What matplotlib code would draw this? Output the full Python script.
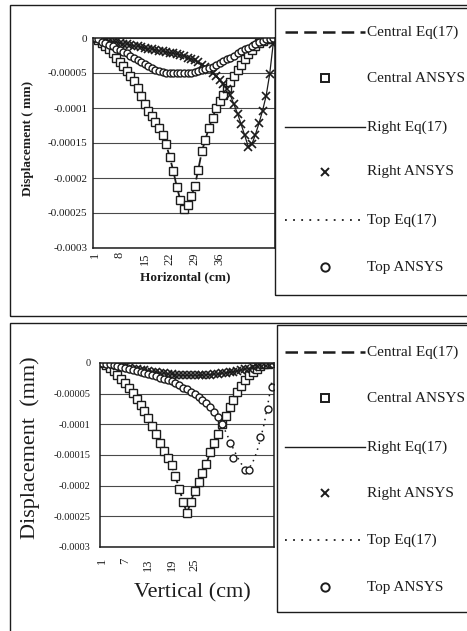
import matplotlib
matplotlib.use('Agg')
import numpy as np
import matplotlib.pyplot as plt
from matplotlib.lines import Line2D
from matplotlib.patches import Rectangle

plt.rcParams['font.family'] = ['Liberation Serif', 'DejaVu Serif']

# horizontal section, 51 stations
central_h = [0, -0.000003, -0.000007, -0.000011, -0.000016, -0.000022, -0.000028, -0.000034,
             -0.00004, -0.000047, -0.000054, -0.000062, -0.000072, -0.000083, -0.000094,
             -0.000104, -0.000112, -0.00012, -0.000128, -0.000138, -0.000152, -0.00017,
             -0.00019, -0.000213, -0.000232, -0.000245, -0.000238, -0.000226, -0.000212,
             -0.000188, -0.000162, -0.000145, -0.000128, -0.000114, -0.0001, -0.00009,
             -0.000081, -0.000072, -0.000063, -0.000054, -0.000046, -0.000038, -0.00003,
             -0.000023, -0.000017, -0.000011, -0.000007, -0.000004, -0.000002, -0.000001, 0]
right_h = [0, -0.000001, -0.000002, -0.000003, -0.000004, -0.000005, -0.000006, -0.000007,
           -0.000008, -0.000009, -0.00001, -0.000011, -0.000012, -0.000013, -0.000014,
           -0.000015, -0.000016, -0.000017, -0.000018, -0.000019, -0.00002, -0.000021,
           -0.000022, -0.000023, -0.000024, -0.000026, -0.000028, -0.00003, -0.000032,
           -0.000035, -0.000038, -0.000041, -0.000045, -0.00005, -0.000054, -0.00006,
           -0.000066, -0.000073, -0.000082, -0.000095, -0.000108, -0.000123, -0.000139,
           -0.000155, -0.000152, -0.000138, -0.000122, -0.000104, -0.000083, -0.000052, -0.000008]
top_h = [0, -0.000002, -0.000005, -0.000007, -0.00001, -0.000012, -0.000015, -0.000017,
         -0.00002, -0.000022, -0.000025, -0.000028, -0.000031, -0.000034, -0.000037,
         -0.00004, -0.000043, -0.000045, -0.000047, -0.000049, -0.00005, -0.00005,
         -0.00005, -0.00005, -0.00005, -0.00005, -0.00005, -0.00005, -0.000049,
         -0.000047, -0.000046, -0.000044, -0.000043, -0.000041, -0.000038, -0.000036,
         -0.000033, -0.00003, -0.000028, -0.000025, -0.000022, -0.000019, -0.000016,
         -0.000014, -0.000011, -0.000008, -0.000006, -0.000004, -0.000002, -0.000001, 0]
ticks_h = [1, 8, 15, 22, 29, 36]

# vertical section, 45 stations
central_v = [0, -0.000003, -0.000008, -0.000013, -0.000019, -0.000026, -0.000033, -0.000041,
             -0.000049, -0.000058, -0.000068, -0.000078, -0.000089, -0.000102, -0.000116,
             -0.00013, -0.000143, -0.000155, -0.000167, -0.000185, -0.000205, -0.000226,
             -0.000245, -0.000226, -0.000208, -0.000194, -0.00018, -0.000165, -0.000145,
             -0.00013, -0.000115, -0.0001, -0.000086, -0.000072, -0.00006, -0.000048,
             -0.000037, -0.000028, -0.00002, -0.000014, -0.000009, -0.000005, -0.000002,
             -0.000001, 0]
right_v = [0, -0.000001, -0.000003, -0.000004, -0.000005, -0.000006, -0.000007, -0.000008,
           -0.000009, -0.00001, -0.000011, -0.000012, -0.000013, -0.000014, -0.000015,
           -0.000016, -0.000017, -0.000018, -0.000018, -0.000019, -0.00002, -0.00002,
           -0.00002, -0.00002, -0.00002, -0.00002, -0.00002, -0.000019, -0.000019,
           -0.000018, -0.000018, -0.000017, -0.000016, -0.000015, -0.000014, -0.000013,
           -0.000012, -0.00001, -0.000009, -0.000007, -0.000005, -0.000004, -0.000002,
           -0.000001, 0]
nan = np.nan
top_v = [0, -0.000001, -0.000002, -0.000003, -0.000005, -0.000006, -0.000008, -0.00001,
         -0.000011, -0.000013, -0.000015, -0.000016, -0.000018, -0.00002, -0.000022,
         -0.000024, -0.000026, -0.000028, -0.00003, -0.000033, -0.000036, -0.00004,
         -0.000043, -0.000047, -0.000051, -0.000055, -0.00006, -0.000065, -0.000071,
         -0.00008, -0.000088, -0.0001, nan, -0.00013, -0.000155, nan, nan, -0.000174,
         -0.000174, nan, nan, -0.00012, nan, -0.000075, -0.000039]
top_eq_v = [0, -0.000001, -0.000002, -0.000003, -0.000005, -0.000006, -0.000008, -0.00001,
            -0.000011, -0.000013, -0.000015, -0.000016, -0.000018, -0.00002, -0.000022,
            -0.000024, -0.000026, -0.000028, -0.00003, -0.000033, -0.000036, -0.00004,
            -0.000043, -0.000047, -0.000051, -0.000055, -0.00006, -0.000065, -0.000071,
            -0.00008, -0.000088, -0.0001, -0.000112, -0.000126, -0.00014, -0.000153,
            -0.000164, -0.000171, -0.000172, -0.000162, -0.000146, -0.000124, -0.000098,
            -0.000064, -0.000028]
ticks_v = [1, 7, 13, 19, 25]

yvals = [0, -0.00005, -0.0001, -0.00015, -0.0002, -0.00025, -0.0003]
ylabs = ['0', '-0.00005', '-0.0001', '-0.00015', '-0.0002', '-0.00025', '-0.0003']
legend_labels = ['Central Eq(17)', 'Central ANSYS', 'Right Eq(17)', 'Right ANSYS',
                 'Top Eq(17)', 'Top ANSYS']

ink = '#1c1c1c'
W, H = 467, 631
fig = plt.figure(figsize=(W / 100, H / 100), dpi=100)


def fx(x):
    return x / W


def fy(y):
    return 1 - y / H


def panel(rect, central, right, top, top_eq, ticks, ysize, ypad, xpad):
    ax = fig.add_axes(rect)
    x = np.arange(1, len(central) + 1)
    ax.plot(x, central, color=ink, lw=1.3, dashes=(5, 2.5))
    ax.plot(x, right, color=ink, lw=0.9)
    ax.plot(x, top_eq, color=ink, lw=1.1, dashes=(1, 3))
    ax.plot(x, central, ls='none', marker='s', ms=5.5, mfc='white', mec=ink, mew=1.0)
    ax.plot(x, right, ls='none', marker='x', ms=5.5, mec=ink, mew=1.2)
    ax.plot(x, top, ls='none', marker='o', ms=5, mfc='white', mec=ink, mew=1.0)
    ax.set_xlim(0.5, len(central) + 0.5)
    ax.set_ylim(-0.0003, 0)
    ax.set_yticks(yvals)
    ax.set_yticklabels(ylabs)
    ax.set_xticks(ticks)
    ax.set_xticklabels([str(t) for t in ticks], rotation=90)
    ax.tick_params(axis='y', length=0, pad=ypad, labelsize=ysize, colors=ink)
    ax.tick_params(axis='x', length=0, pad=xpad, labelsize=9, colors=ink)
    ax.grid(axis='y', color='#4a4a4a', lw=0.8)
    ax.set_axisbelow(True)
    for s in ax.spines.values():
        s.set_color(ink)
        s.set_linewidth(1.1)
    return ax


def legend(box, ys):
    x0, y0, x1, y1 = box
    fig.add_artist(Rectangle((fx(x0), fy(y1)), fx(x1) - fx(x0), fy(y0) - fy(y1),
                             transform=fig.transFigure, fill=False, ec=ink, lw=1))
    styles = [dict(lw=1.8, dashes=(5, 2.5)), dict(marker='s'), dict(lw=1.0),
              dict(marker='x'), dict(lw=1.3, dashes=(1, 3.5)), dict(marker='o')]
    for lab, st, y in zip(legend_labels, styles, ys):
        if 'marker' in st:
            fig.add_artist(Line2D([fx(325)], [fy(y)], transform=fig.transFigure, ls='none',
                                  marker=st['marker'], ms=6, mfc='white', mec=ink, mew=1.4))
        else:
            fig.add_artist(Line2D([fx(285), fx(365)], [fy(y), fy(y)],
                                  transform=fig.transFigure, color=ink, **st))
        fig.text(fx(367), fy(y), lab, ha='left', va='center', fontsize=11, color=ink)


# outer frames of both panels
for (x0, y0, x1, y1) in [(10, 5, 472, 316), (10, 323, 472, 634)]:
    fig.add_artist(Rectangle((fx(x0), fy(y1)), fx(x1) - fx(x0), fy(y0) - fy(y1),
                             transform=fig.transFigure, fill=False, ec=ink, lw=1))

# top panel: horizontal
panel([fx(93), fy(248), fx(275) - fx(93), fy(38) - fy(248)],
      central_h, right_h, top_h, top_h, ticks_h, 8, 4, 3)
fig.text(fx(28), fy(138), 'Displacement ( mm)', rotation=90, ha='center', va='center',
         fontsize=9.5, fontweight='bold', color=ink)
fig.text(fx(185), fy(277), 'Horizontal (cm)', ha='center', va='center',
         fontsize=9.5, fontweight='bold', color=ink)
legend((275, 8, 472, 295), [32, 78, 127, 172, 220, 267])

# bottom panel: vertical
panel([fx(100), fy(547), fx(274) - fx(100), fy(363) - fy(547)],
      central_v, right_v, top_v, top_eq_v, ticks_v, 7.5, 7, 8)
fig.text(fx(30), fy(448), 'Displacement  (mm)', rotation=90, ha='center', va='center',
         fontsize=16, color=ink)
fig.text(fx(192), fy(593), 'Vertical (cm)', ha='center', va='center',
         fontsize=16, color=ink)
legend((277, 325, 472, 612), [352, 398, 447, 493, 540, 587])

fig.savefig('out.png', dpi=100, facecolor='white')
